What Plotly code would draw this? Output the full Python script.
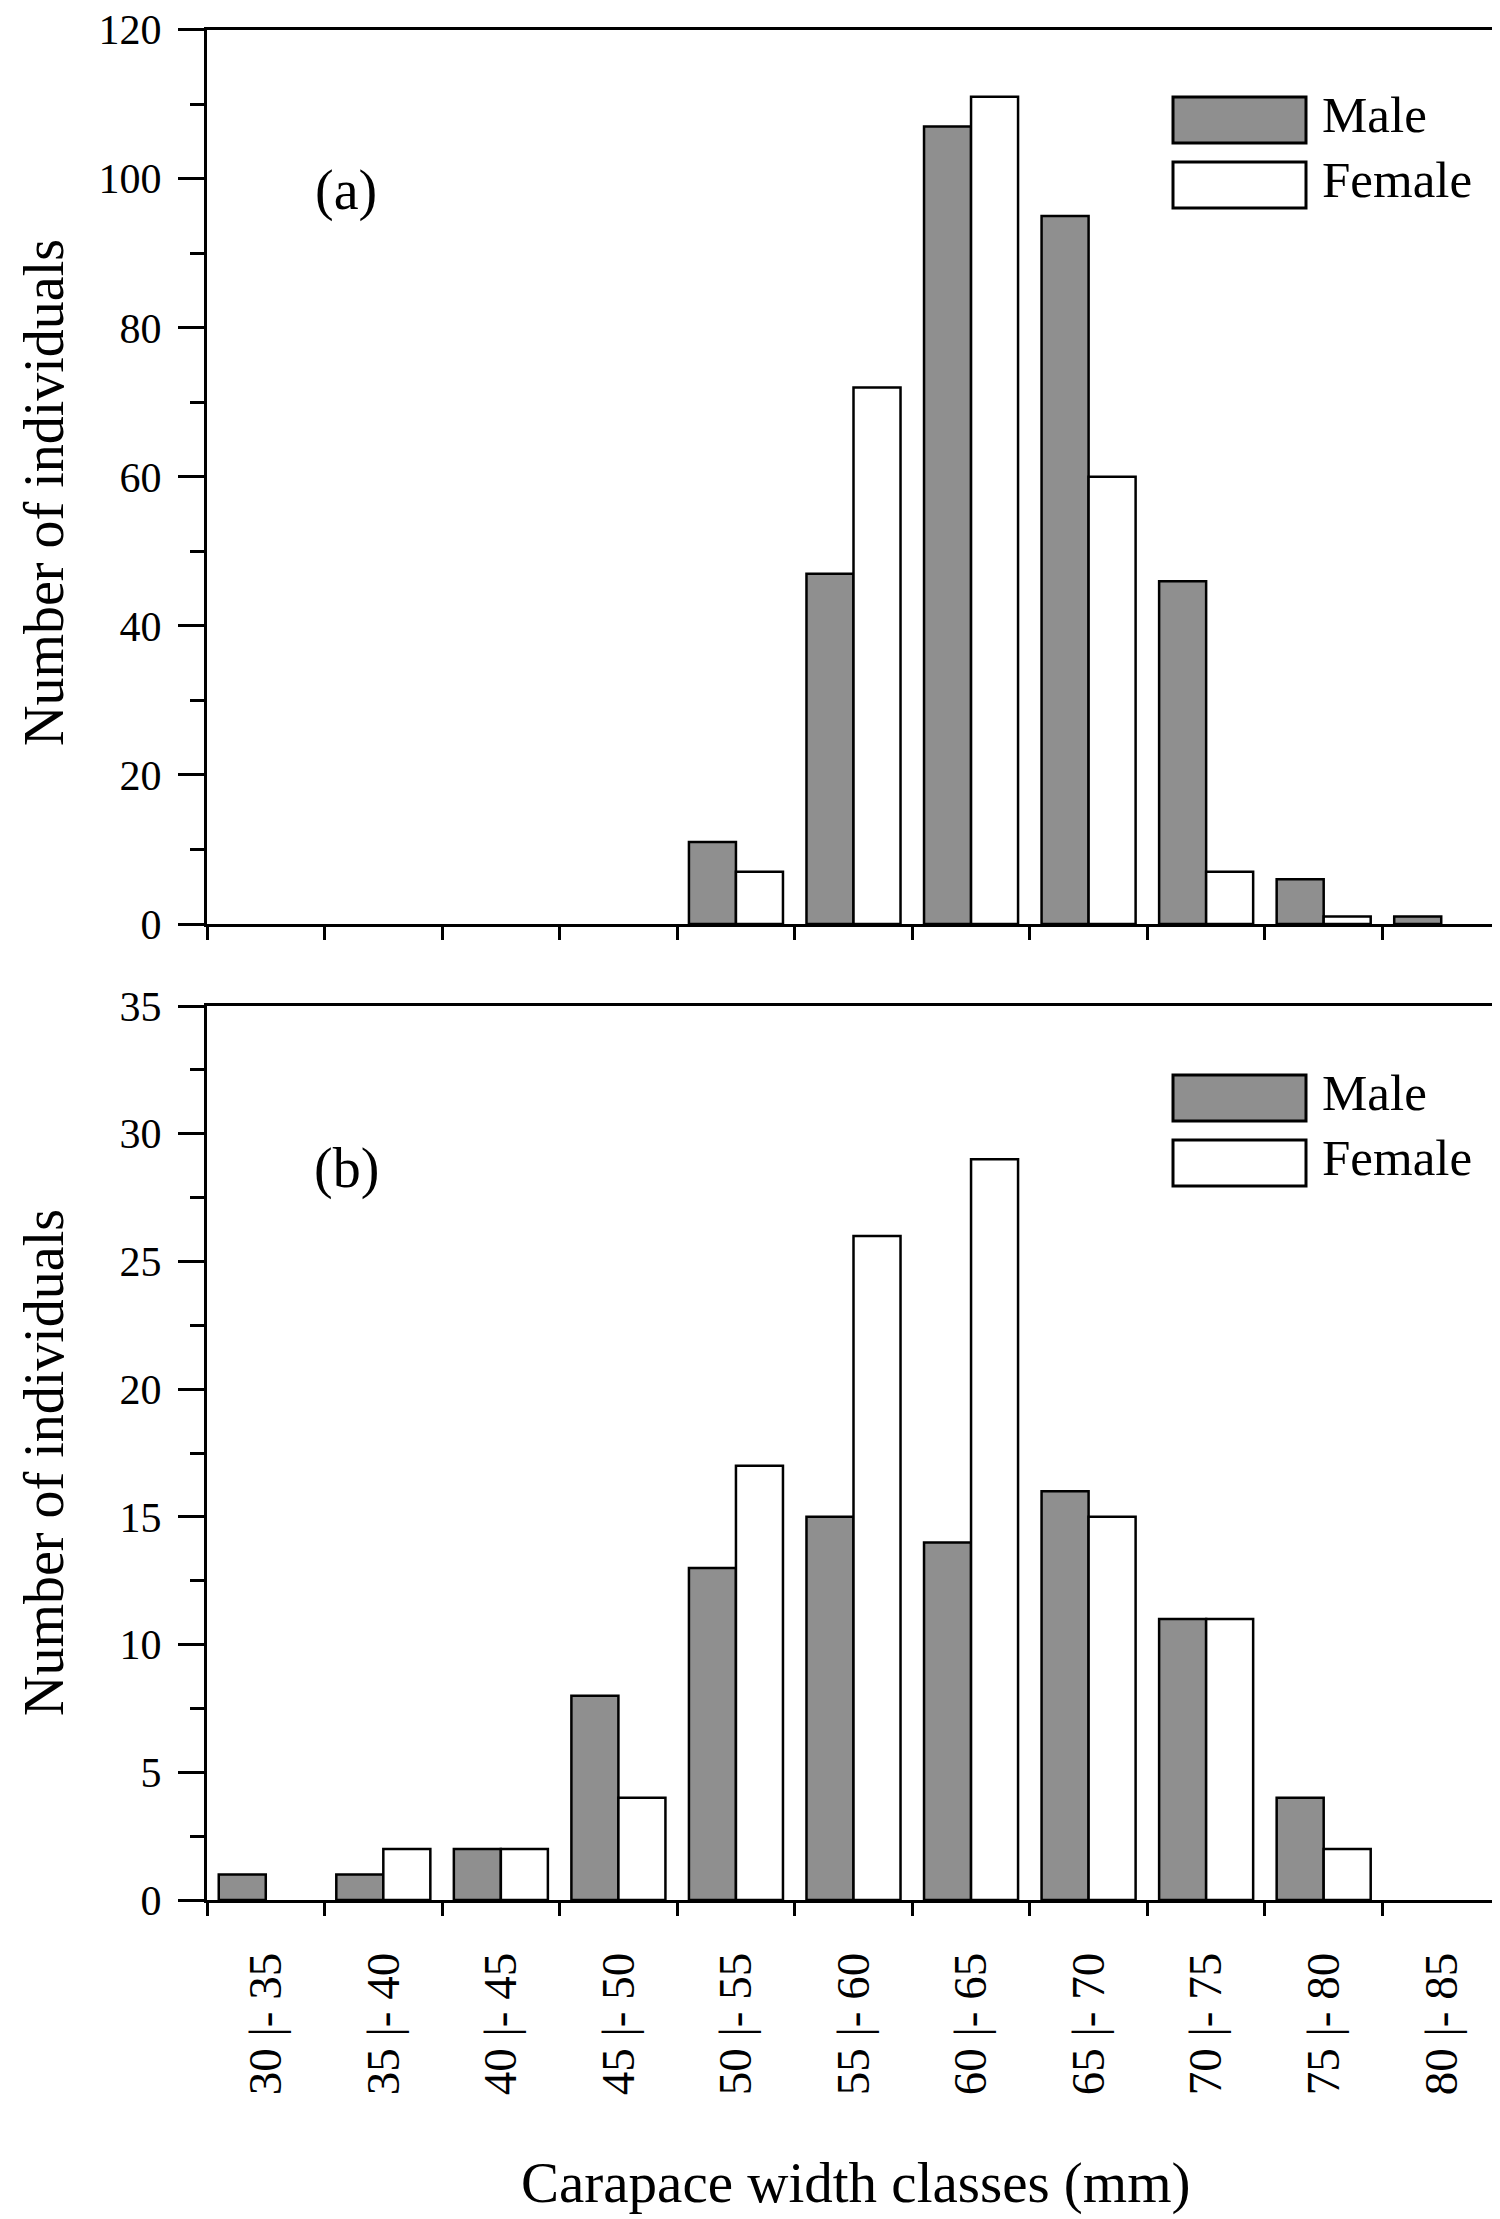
import plotly.graph_objects as go

W, H = 1500, 2219

# carapace width classes (mm)
classes = ["30 |- 35", "35 |- 40", "40 |- 45", "45 |- 50", "50 |- 55", "55 |- 60",
           "60 |- 65", "65 |- 70", "70 |- 75", "75 |- 80", "80 |- 85"]
# panel (a)
male_a = [0, 0, 0, 0, 11, 47, 107, 95, 46, 6, 1]
female_a = [0, 0, 0, 0, 7, 72, 111, 60, 7, 1, 0]
# panel (b)
male_b = [1, 1, 2, 8, 13, 15, 14, 16, 11, 4, 0]
female_b = [0, 2, 2, 4, 17, 26, 29, 15, 11, 2, 0]

FONT = "Liberation Serif, Times New Roman, serif"
GRAY = "#8f8f8f"


def px_x(v):
    return v / W


def px_y(v):
    return 1 - v / H


def outline(vals):
    # empty classes get no outline, as in the original
    return dict(color="black", width=[0 if v == 0 else 2.5 for v in vals])


fig = go.Figure()
fig.add_trace(go.Bar(x=classes, y=male_a, name="Male", marker=dict(color=GRAY, line=outline(male_a)),
                     xaxis="x", yaxis="y"))
fig.add_trace(go.Bar(x=classes, y=female_a, name="Female", marker=dict(color="white", line=outline(female_a)),
                     xaxis="x", yaxis="y"))
fig.add_trace(go.Bar(x=classes, y=male_b, name="Male", marker=dict(color=GRAY, line=outline(male_b)),
                     xaxis="x2", yaxis="y2"))
fig.add_trace(go.Bar(x=classes, y=female_b, name="Female", marker=dict(color="white", line=outline(female_b)),
                     xaxis="x2", yaxis="y2"))

xdom = [px_x(199), px_x(1492)]
ydom_a = [px_y(916), px_y(21.7)]
ydom_b = [px_y(1892), px_y(998)]

common_x = dict(
    domain=xdom, type="category", tickson="boundaries", ticks="outside", ticklen=13,
    tickwidth=3, tickcolor="black", showline=True, linewidth=3, linecolor="black",
    mirror=True, showgrid=False, zeroline=False, range=[-0.5, 10.5], automargin=False,
)
common_y = dict(
    ticks="outside", ticklen=26, tickwidth=3, tickcolor="black", showline=True,
    linewidth=3, linecolor="black", mirror=True, showgrid=False, zeroline=False,
    tickfont=dict(family=FONT, size=42, color="black"), ticklabelstandoff=8,
    ticklabeloverflow="allow", automargin=False,
)
# inward ticks on the top frame of each panel
top_ticks = dict(
    side="top", range=[-0.5, 10.5], tick0=-0.5, dtick=1, ticks="inside",
    ticklen=12, tickwidth=3, tickcolor="black", showticklabels=False, showgrid=False,
    zeroline=False, showline=False, domain=xdom, automargin=False,
)

fig.update_layout(
    width=W, height=H, margin=dict(l=0, r=0, t=0, b=0, pad=0),
    paper_bgcolor="white", plot_bgcolor="white", showlegend=False,
    barmode="group", bargap=0.2, bargroupgap=0,
    font=dict(family=FONT, color="black"),
    xaxis=dict(common_x, anchor="y", showticklabels=False),
    yaxis=dict(common_y, domain=ydom_a, anchor="x", range=[0, 120], dtick=20,
               minor=dict(dtick=10, ticks="outside", ticklen=14, tickwidth=3, tickcolor="black")),
    xaxis2=dict(common_x, anchor="y2", tickangle=-90, ticklabelstandoff=31,
                ticklabeloverflow="allow",
                tickfont=dict(family=FONT, size=47, color="black")),
    yaxis2=dict(common_y, domain=ydom_b, anchor="x2", range=[0, 35], dtick=5,
                minor=dict(dtick=2.5, ticks="outside", ticklen=14, tickwidth=3, tickcolor="black")),
    xaxis3=dict(top_ticks, overlaying="x", anchor="y"),
    xaxis4=dict(top_ticks, overlaying="x2", anchor="y2"),
)

annotations = []
shapes = []
txt = dict(xref="paper", yref="paper", showarrow=False, xanchor="center", yanchor="middle")
# y titles, panel letters, x title
for yc in [485, 1455]:
    annotations.append(dict(txt, text="Number of individuals", x=px_x(36), y=px_y(yc),
                            textangle=-90, font=dict(family=FONT, size=56, color="black")))
for lab, yc in [("(a)", 182), ("(b)", 1160)]:
    annotations.append(dict(txt, text=lab, x=px_x(338), y=px_y(yc),
                            font=dict(family=FONT, size=56, color="black")))
annotations.append(dict(txt, text="Carapace width classes (mm)", x=px_x(848), y=px_y(2175),
                        font=dict(family=FONT, size=57, color="black")))

# legend boxes drawn by hand so the swatches match the original size
for top in [89, 1067]:
    for i, (label, fill) in enumerate([("Male", GRAY), ("Female", "white")]):
        y0 = top + i * 65
        shapes.append(dict(type="rect", xref="paper", yref="paper", x0=px_x(1165), x1=px_x(1298),
                           y0=px_y(y0 + 46), y1=px_y(y0), fillcolor=fill,
                           line=dict(color="black", width=3)))
        annotations.append(dict(txt, text=label, x=px_x(1312), y=px_y(y0 + 18), xanchor="left",
                                font=dict(family=FONT, size=51, color="black")))

fig.update_layout(annotations=annotations, shapes=shapes)
fig.write_html("out.html")
